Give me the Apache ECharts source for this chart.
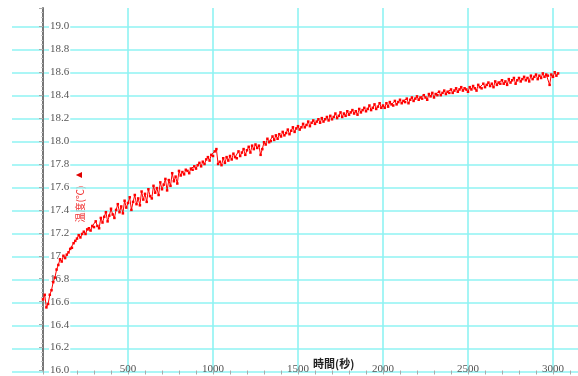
<!DOCTYPE html>
<html>
<head>
<meta charset="utf-8">
<script src="https://cdn.jsdelivr.net/npm/echarts@6/dist/echarts.min.js"></script>
<style>
  html, body { margin: 0; padding: 0; background: #fff; }
  #chart { width: 578px; height: 376px; }
</style>
</head>
<body>
<div id="chart"></div>
<script>
// Temperature log: one reading every 10 seconds, starting at t = 0 s.
const START_TIME = 0;
const STEP_SECONDS = 10;
const temperatures = [
  16.62, 16.66, 16.55, 16.58, 16.66, 16.70, 16.77, 16.81, 16.88, 16.92,
  16.97, 16.95, 17.00, 16.98, 17.01, 17.03, 17.06, 17.07, 17.11, 17.13,
  17.15, 17.18, 17.16, 17.19, 17.21, 17.19, 17.23, 17.24, 17.22, 17.26,
  17.25, 17.30, 17.26, 17.24, 17.33, 17.29, 17.34, 17.38, 17.30, 17.35,
  17.41, 17.36, 17.33, 17.40, 17.45, 17.38, 17.43, 17.37, 17.48, 17.42,
  17.46, 17.51, 17.40, 17.47, 17.53, 17.45, 17.50, 17.44, 17.56, 17.49,
  17.54, 17.47, 17.58, 17.52, 17.50, 17.61, 17.55, 17.59, 17.53, 17.64,
  17.58, 17.62, 17.67, 17.57, 17.66, 17.61, 17.72, 17.65, 17.69, 17.63,
  17.74, 17.70, 17.73, 17.71, 17.75, 17.74, 17.72, 17.76, 17.75, 17.78,
  17.76, 17.79, 17.81, 17.78, 17.82, 17.80, 17.84, 17.86, 17.83, 17.88,
  17.87, 17.91, 17.93, 17.80, 17.82, 17.79, 17.85, 17.81, 17.86, 17.83,
  17.87, 17.84, 17.89, 17.86, 17.85, 17.91, 17.87, 17.90, 17.93, 17.88,
  17.92, 17.95, 17.90, 17.96, 17.93, 17.97, 17.94, 17.96, 17.88, 17.93,
  17.99, 17.97, 18.02, 17.99, 18.00, 18.04, 18.01, 18.05, 18.02, 18.06,
  18.04, 18.08, 18.05, 18.07, 18.10, 18.06, 18.09, 18.12, 18.08, 18.11,
  18.13, 18.10, 18.12, 18.15, 18.12, 18.14, 18.17, 18.13, 18.16, 18.18,
  18.15, 18.17, 18.19, 18.16, 18.20, 18.17, 18.19, 18.21, 18.18, 18.22,
  18.19, 18.21, 18.24, 18.20, 18.22, 18.25, 18.21, 18.24, 18.22, 18.26,
  18.23, 18.25, 18.27, 18.24, 18.26, 18.23, 18.28, 18.25, 18.27, 18.29,
  18.26, 18.28, 18.31, 18.27, 18.29, 18.32, 18.28, 18.30, 18.33, 18.29,
  18.31, 18.29, 18.33, 18.30, 18.34, 18.32, 18.31, 18.35, 18.32, 18.34,
  18.36, 18.33, 18.35, 18.34, 18.37, 18.33, 18.36, 18.38, 18.35, 18.37,
  18.39, 18.36, 18.38, 18.37, 18.40, 18.38, 18.36, 18.41, 18.39, 18.42,
  18.38, 18.41, 18.40, 18.43, 18.40, 18.42, 18.44, 18.41, 18.43, 18.42,
  18.45, 18.42, 18.44, 18.46, 18.43, 18.45, 18.47, 18.44, 18.46, 18.45,
  18.43, 18.47, 18.45, 18.48, 18.46, 18.44, 18.49, 18.47, 18.46, 18.50,
  18.47, 18.49, 18.51, 18.48, 18.50, 18.47, 18.52, 18.49, 18.51, 18.50,
  18.53, 18.50, 18.52, 18.49, 18.54, 18.51, 18.53, 18.55, 18.50, 18.53,
  18.55, 18.52, 18.54, 18.56, 18.53, 18.55, 18.52, 18.57, 18.54, 18.56,
  18.58, 18.54, 18.57, 18.55, 18.59, 18.56, 18.58, 18.57, 18.49, 18.58,
  18.56, 18.60, 18.57, 18.59
];

// Y tick labels from 16.0 up to 19.0 in 0.2 steps (17 is printed without the decimal).
const yTickLabels = [
  '16.0', '16.2', '16.4', '16.6', '16.8', '17', '17.2', '17.4',
  '17.6', '17.8', '18.0', '18.2', '18.4', '18.6', '18.8', '19.0'
];

const X_NAME = '時間(秒)';
const Y_NAME = '温度(℃)';

const points = temperatures.map((v, i) => [START_TIME + i * STEP_SECONDS, v]);

const GRID_COLOR = '#8ff3f3';
const AXIS_GRAY = '#777';
const LABEL_FONT = '"Liberation Serif", "DejaVu Serif", serif';

const chart = echarts.init(document.getElementById('chart'), null, { renderer: 'canvas' });

chart.setOption({
  animation: false,
  backgroundColor: '#fff',
  grid: [
    // full-width grid: carries the horizontal rules, which also run left of the y axis
    { left: 12, right: 0, top: 8, bottom: 4 },
    // plotting area starting at t = 0
    { left: 43, right: 0, top: 8, bottom: 4 }
  ],
  xAxis: [
    { gridIndex: 0, type: 'value', min: 0, max: 1, show: false },
    {
      gridIndex: 1, type: 'value', min: 0, max: 3147, interval: 500,
      axisLine: { show: false },
      axisTick: { show: true, length: 4, lineStyle: { color: '#aaa', width: 1 } },
      minorTick: { show: true, splitNumber: 5, length: 4, lineStyle: { color: '#aaa', width: 1 } },
      splitLine: { show: true, showMaxLine: false, lineStyle: { color: GRID_COLOR, width: 1.6 } },
      axisLabel: {
        showMinLabel: false, showMaxLabel: false,
        margin: -7, fontFamily: LABEL_FONT, fontSize: 11, color: '#555',
        formatter: (v) => String(v)
      }
    }
  ],
  yAxis: [
    {
      gridIndex: 0, type: 'value', min: 16, max: 19.16, interval: 0.2,
      axisLine: { show: false }, axisTick: { show: false }, axisLabel: { show: false },
      splitLine: { show: true, showMaxLine: false, lineStyle: { color: GRID_COLOR, width: 1.6 } }
    },
    {
      gridIndex: 1, type: 'value', min: 16, max: 19.16, interval: 0.2,
      axisLine: { show: true, lineStyle: { color: AXIS_GRAY, width: 2 } },
      axisTick: { show: true, length: 4, lineStyle: { color: '#aaa', width: 1 } },
      minorTick: { show: true, splitNumber: 5, length: 2, lineStyle: { color: '#c4c4c4', width: 1 } },
      splitLine: { show: false },
      axisLabel: {
        inside: true, margin: 6, showMaxLabel: false,
        fontFamily: LABEL_FONT, fontSize: 11, color: '#555',
        backgroundColor: '#fff', padding: [0, 1],
        formatter: (v) => yTickLabels[Math.round((v - 16) / 0.2)] || ''
      }
    }
  ],
  graphic: [
    {
      type: 'text', left: 313, top: 358,
      style: {
        text: X_NAME, x: 0, y: 0, align: 'center', verticalAlign: 'middle',
        font: 'bold 11px "Noto Sans CJK JP", sans-serif', fill: '#222'
      }
    },
    {
      type: 'text', x: 80, y: 204, rotation: Math.PI / 2,
      style: {
        text: Y_NAME, align: 'center', verticalAlign: 'middle',
        font: '10px "Noto Sans CJK JP", sans-serif', fill: '#f03030'
      }
    },
    {
      type: 'text', x: 79, y: 175, rotation: Math.PI / 2,
      style: {
        text: '▲', align: 'center', verticalAlign: 'middle',
        font: '8px "DejaVu Sans", sans-serif', fill: '#e00000'
      }
    }
  ],
  series: [
    {
      name: Y_NAME,
      type: 'line',
      xAxisIndex: 1, yAxisIndex: 1,
      data: points,
      showSymbol: true,
      symbol: 'rect',
      symbolSize: 2.5,
      lineStyle: { color: '#ff0000', width: 1 },
      itemStyle: { color: '#ff0000' },
      emphasis: { disabled: true }
    }
  ]
});
</script>
</body>
</html>
